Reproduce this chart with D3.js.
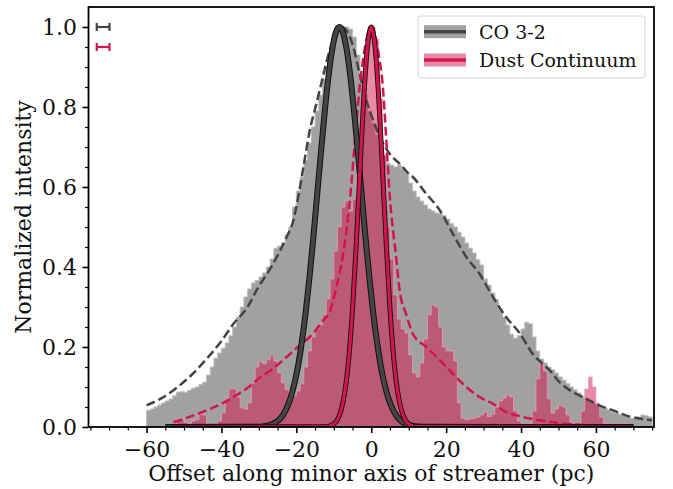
<!DOCTYPE html>
<html>
<head>
<meta charset="utf-8">
<script src="https://cdn.jsdelivr.net/npm/d3@7"></script>
<style>
  body { margin: 0; background: #fff; }
  svg { display: block; font-family: "DejaVu Serif", serif; }
</style>
</head>
<body>
<div id="chart"></div>
<script>
// CO 3-2 histogram, 1 pc bins starting at -60
const coStart = -60;
const coHist = [
  0.042, 0.045, 0.05, 0.055, 0.06, 0.065, 0.07, 0.078, 0.087, 0.088,
  0.087, 0.092, 0.097, 0.1, 0.106, 0.112, 0.13, 0.15, 0.172, 0.185,
  0.197, 0.21, 0.228, 0.25, 0.275, 0.3, 0.325, 0.345, 0.36, 0.366,
  0.375, 0.385, 0.4, 0.42, 0.447, 0.452, 0.46, 0.48, 0.5, 0.55,
  0.59, 0.625, 0.667, 0.71, 0.75, 0.79, 0.83, 0.87, 0.9, 0.94,
  0.97, 0.99, 1.0, 1.0, 0.995, 0.975, 0.93, 0.88, 0.83, 0.79,
  0.76, 0.73, 0.7, 0.68, 0.66, 0.655, 0.65, 0.655, 0.645, 0.635,
  0.61, 0.59, 0.575, 0.565, 0.555, 0.545, 0.54, 0.535, 0.533, 0.528,
  0.52, 0.508, 0.5, 0.487, 0.475, 0.46, 0.447, 0.435, 0.418, 0.405,
  0.37, 0.355, 0.335, 0.318, 0.295, 0.275, 0.255, 0.232, 0.222, 0.228,
  0.245, 0.262, 0.258, 0.225, 0.19, 0.17, 0.16, 0.15, 0.143, 0.135,
  0.125, 0.117, 0.108, 0.1, 0.093, 0.085, 0.077, 0.07, 0.063, 0.058,
  0.055, 0.05, 0.047, 0.043, 0.038, 0.035, 0.032, 0.029, 0.026, 0.022,
  0.021, 0.025, 0.03, 0.028, 0.025
];

// Dust continuum histogram, 1 pc bins starting at -53
const dustStart = -53;
const dustHist = [
  0.005, 0.018, 0.02, 0.012, 0.008, 0.015, 0.018, 0.032, 0.03, 0.005,
  0.003, 0.004, 0.015, 0.035, 0.07, 0.095, 0.095, 0.075, 0.048, 0.045,
  0.06, 0.11, 0.15, 0.163, 0.158, 0.168, 0.178, 0.165, 0.135, 0.11,
  0.093, 0.085, 0.078, 0.09, 0.108, 0.15, 0.19, 0.225, 0.245, 0.255,
  0.28, 0.32, 0.37, 0.44, 0.5, 0.55, 0.565, 0.54, 0.57, 0.65,
  0.74, 0.88, 0.97, 1.0, 0.97, 0.82, 0.68, 0.5, 0.42, 0.33,
  0.27, 0.245, 0.235, 0.18, 0.135, 0.125, 0.16, 0.22, 0.28, 0.305,
  0.3, 0.25, 0.2, 0.19, 0.19, 0.165, 0.06, 0.022, 0.018, 0.02,
  0.022, 0.025, 0.03, 0.037, 0.026, 0.032, 0.05, 0.065, 0.072, 0.08,
  0.075, 0.04, 0.015, 0.005, 0.004, 0.005, 0.04, 0.12, 0.158, 0.14,
  0.07, 0.035, 0.045, 0.054, 0.05, 0.03, 0.012, 0.008, 0.007, 0.04,
  0.095, 0.125, 0.1, 0.06, 0.025, 0.008, 0.004, 0.003, 0.003, 0.002,
  0.002, 0.002, 0.002
];
const binWidth = 1;

// Gaussian fits (solid)
const coFitX = [-55, -30.5, -28.5, -26.5, -25.5, -24.5, -23.5, -22.5, -21.5, -20.5, -19.5, -18.5, -17.5, -16.5,
  -15.5, -14.5, -13.5, -12.5, -11.5, -10.5, -9.5, -8.5, -7.5, -6.5, -5.5, -4.5, -3.5, -2.5, -1.5, -0.5,
  0.5, 1.5, 2.5, 3.5, 4.5, 5.5, 6.5, 7.5, 9.5, 13.5, 70];
const coFitY = [0, 0.0006, 0.002, 0.0068, 0.0117, 0.019, 0.031, 0.049, 0.074, 0.109, 0.155, 0.215, 0.287, 0.373,
  0.47, 0.575, 0.68, 0.78, 0.87, 0.94, 0.985, 1.0, 0.985, 0.94, 0.87, 0.78, 0.68, 0.575, 0.47, 0.373,
  0.287, 0.215, 0.155, 0.109, 0.074, 0.049, 0.031, 0.019, 0.0068, 0.0006, 0];
const dustFitX = [-53, -12, -11, -10, -9, -8, -7, -6, -5, -4, -3, -2, -1, 0, 1, 2, 3, 4, 5, 6, 7, 8, 9, 10, 11, 12, 70];
const dustFitY = [0, 0.0009, 0.0027, 0.0076, 0.019, 0.044, 0.091, 0.172, 0.295, 0.458, 0.644, 0.823, 0.952, 1.0,
  0.952, 0.823, 0.644, 0.458, 0.295, 0.172, 0.091, 0.044, 0.019, 0.0076, 0.0027, 0.0009, 0];

// Broad profiles (dashed)
const coProfX = [-60, -56, -52.8, -48, -43.9, -40, -36.8, -33, -30.6, -26.2, -22.6, -21, -20, -18.2, -16.4, -14.6,
  -12.8, -11, -9.3, -8, -6.5, -4.8, -3.1, -1.3, 0.5, 2.3, 4.9, 7.6, 9.8, 11.1, 14.7, 18.3, 21.8, 25.4, 28.9,
  32.5, 36, 39.6, 43.1, 47.6, 50.7, 53.8, 57.3, 60.9, 64.4, 68, 71.6, 75];
const coProfY = [0.054, 0.072, 0.092, 0.13, 0.171, 0.215, 0.258, 0.3, 0.342, 0.408, 0.475, 0.51, 0.55, 0.645, 0.742, 0.81,
  0.88, 0.945, 0.985, 1.0, 0.99, 0.95, 0.883, 0.817, 0.767, 0.725, 0.683, 0.658, 0.635, 0.625, 0.583, 0.542, 0.483, 0.425, 0.383,
  0.325, 0.275, 0.235, 0.183, 0.142, 0.108, 0.0875, 0.071, 0.054, 0.042, 0.029, 0.021, 0.017];
const dustProfX = [-52.8, -48, -43.9, -40, -36.8, -33, -30.6, -26.2, -22.6, -19, -16.4, -12.8, -11, -9.3, -7.5, -5.7,
  -3.9, -3.1, -2, -1, 0, 1, 2, 3.1, 4, 4.9, 6.7, 7.6, 9.4, 11.1, 14.7, 18.3, 21.8, 25.4, 28.9, 32.5, 36, 39.6,
  43.1, 47.6, 51, 55, 57];
const dustProfY = [0.012, 0.027, 0.042, 0.058, 0.075, 0.098, 0.117, 0.146, 0.175, 0.205, 0.225, 0.267, 0.29, 0.35, 0.433, 0.567,
  0.767, 0.85, 0.93, 0.98, 1.0, 0.98, 0.93, 0.85, 0.72, 0.583, 0.42, 0.34, 0.28, 0.233, 0.2, 0.167, 0.133, 0.1, 0.075, 0.058, 0.0375, 0.027,
  0.02, 0.013, 0.009, 0.006, 0.005];

// resolution error bars (top left)
const errX = [-71.6, -71.6];
const errY = [1.0, 0.95];
const errW = [1.7, 1.7];

const xTicks = [-60, -40, -20, 0, 20, 40, 60];
const yTicks = [0, 0.2, 0.4, 0.6, 0.8, 1.0];
const seriesNames = ["CO 3-2", "Dust Continuum"];

const W = 673, H = 489;
const margin = { top: 7, right: 19, bottom: 62, left: 88.5 };
const grey = "#444444", crimson = "#d4144e";

const svg = d3.select("#chart").append("svg").attr("width", W).attr("height", H);

const x = d3.scaleLinear().domain([-75.5, 75.5]).range([margin.left, W - margin.right]);
const y = d3.scaleLinear().domain([0, 1.05]).range([H - margin.bottom, margin.top]);

svg.append("clipPath").attr("id", "clip")
  .append("rect")
  .attr("x", margin.left).attr("y", margin.top)
  .attr("width", x.range()[1] - margin.left).attr("height", y.range()[0] - margin.top);

const plot = svg.append("g").attr("clip-path", "url(#clip)");

function stepPoints(start, vals) {
  const pts = [[start, 0]];
  vals.forEach((v, i) => {
    pts.push([start + i * binWidth, v]);
    pts.push([start + (i + 1) * binWidth, v]);
  });
  pts.push([start + vals.length * binWidth, 0]);
  return pts;
}

const lineXY = d3.line().x(d => x(d[0])).y(d => y(d[1]));
const smooth = d3.line().x(d => x(d[0])).y(d => y(d[1])).curve(d3.curveMonotoneX);

// histograms
plot.append("path")
  .attr("d", lineXY(stepPoints(coStart, coHist)) + "Z")
  .attr("fill", grey).attr("fill-opacity", 0.5)
  .attr("stroke", "#bdbdbd").attr("stroke-width", 1);

plot.append("path")
  .attr("d", lineXY(stepPoints(dustStart, dustHist)) + "Z")
  .attr("fill", crimson).attr("fill-opacity", 0.5)
  .attr("stroke", "#f0a0b8").attr("stroke-opacity", 0.7).attr("stroke-width", 1);

// dashed profiles
plot.append("path")
  .attr("d", smooth(d3.zip(coProfX, coProfY)))
  .attr("fill", "none").attr("stroke", grey)
  .attr("stroke-width", 2.5).attr("stroke-dasharray", "9,4");

plot.append("path")
  .attr("d", smooth(d3.zip(dustProfX, dustProfY)))
  .attr("fill", "none").attr("stroke", crimson)
  .attr("stroke-width", 2.5).attr("stroke-dasharray", "9,4");

// gaussian fits with dark outline
[[coFitX, coFitY, grey, 6, 4], [dustFitX, dustFitY, crimson, 5, 3.2]].forEach(([fx, fy, c, wo, wi]) => {
  const pts = d3.zip(fx, fy);
  plot.append("path").attr("d", smooth(pts))
    .attr("fill", "none").attr("stroke", "#111").attr("stroke-width", wo);
  plot.append("path").attr("d", smooth(pts))
    .attr("fill", "none").attr("stroke", c).attr("stroke-width", wi);
});

// error bars
const errColors = [grey, crimson];
errX.forEach((ex, i) => {
  const g = svg.append("g").attr("stroke", errColors[i]).attr("stroke-width", 2.2);
  const yy = y(errY[i]);
  g.append("line").attr("x1", x(ex - errW[i])).attr("x2", x(ex + errW[i])).attr("y1", yy).attr("y2", yy);
  [ex - errW[i], ex + errW[i]].forEach(cx => {
    g.append("line").attr("x1", x(cx)).attr("x2", x(cx)).attr("y1", yy - 4).attr("y2", yy + 4);
  });
});

// axes
const fs = "22px";
const xAxis = svg.append("g").attr("transform", `translate(0,${y(0)})`)
  .call(d3.axisBottom(x).tickValues(xTicks).tickSize(6).tickPadding(8).tickFormat(d3.format("d")));
svg.append("g").attr("transform", `translate(0,${y(0)})`)
  .call(d3.axisBottom(x).tickValues(d3.range(-75, 76, 5).filter(v => v % 20 !== 0)).tickSize(3.5).tickFormat(""))
  .call(g => g.select(".domain").remove())
  .selectAll("line").attr("stroke-width", 1.2);
const yAxis = svg.append("g").attr("transform", `translate(${margin.left},0)`)
  .call(d3.axisLeft(y).tickValues(yTicks).tickSize(6).tickPadding(5.5).tickFormat(d3.format(".1f")));
svg.append("g").attr("transform", `translate(${margin.left},0)`)
  .call(d3.axisLeft(y).tickValues(d3.range(0.05, 1.05, 0.05).filter(v => Math.abs(v * 5 - Math.round(v * 5)) > 1e-6)).tickSize(3.5).tickFormat(""))
  .call(g => g.select(".domain").remove())
  .selectAll("line").attr("stroke-width", 1.2);

[xAxis, yAxis].forEach(a => {
  a.selectAll("text").style("font-size", fs).style("font-family", "DejaVu Serif").attr("fill", "#111");
  a.selectAll(".tick line").attr("stroke-width", 1.6);
  a.select(".domain").remove();
});

// frame
svg.append("rect")
  .attr("x", margin.left).attr("y", margin.top)
  .attr("width", x.range()[1] - margin.left).attr("height", y(0) - margin.top)
  .attr("fill", "none").attr("stroke", "#000").attr("stroke-width", 1.8);

// axis labels
svg.append("text")
  .attr("x", (margin.left + x.range()[1]) / 2).attr("y", 481)
  .attr("text-anchor", "middle").style("font-size", fs).attr("fill", "#111")
  .text("Offset along minor axis of streamer (pc)");
svg.append("text")
  .attr("transform", `translate(31,${(margin.top + y(0)) / 2}) rotate(-90)`)
  .attr("text-anchor", "middle").style("font-size", fs).attr("fill", "#111")
  .text("Normalized intensity");

// legend
const leg = svg.append("g");
leg.append("rect")
  .attr("x", 418).attr("y", 16).attr("width", 227).attr("height", 62).attr("rx", 3)
  .attr("fill", "#fff").attr("fill-opacity", 0.8).attr("stroke", "#d6d6d6").attr("stroke-width", 1);
[[grey, 31.7], [crimson, 60]].forEach(([c, cy], i) => {
  leg.append("rect").attr("x", 424).attr("y", cy - 6.5).attr("width", 42).attr("height", 13)
    .attr("fill", c).attr("fill-opacity", 0.5);
  leg.append("line").attr("x1", 424).attr("x2", 466).attr("y1", cy).attr("y2", cy)
    .attr("stroke", c).attr("stroke-width", 3.5);
  leg.append("text").attr("x", 479).attr("y", cy + 7)
    .style("font-size", "19px").attr("fill", "#111").text(seriesNames[i]);
});
</script>
</body>
</html>
